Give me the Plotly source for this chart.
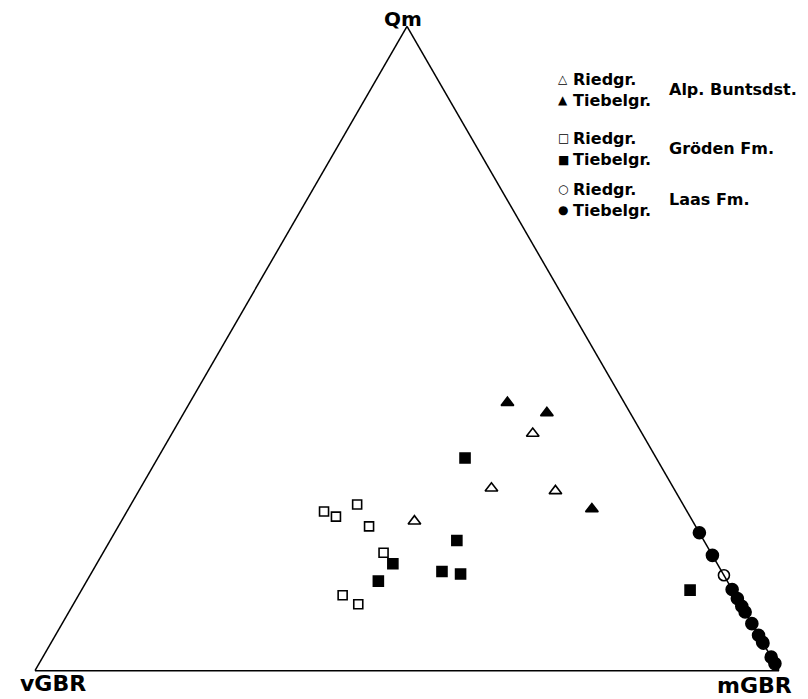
import plotly.graph_objects as go

# Ternary values in percent: Qm (top), vGBR (bottom-left), mGBR (bottom-right)
alp_ried_qm   = [36.8, 28.3, 27.9, 23.2]
alp_ried_vgbr = [14.7, 24.5, 16.1, 37.4]
alp_ried_mgbr = [48.5, 47.2, 56.0, 39.4]

alp_tieb_qm   = [41.6, 40.0, 25.1]
alp_tieb_vgbr = [15.7, 11.2, 12.6]
alp_tieb_mgbr = [42.7, 48.8, 62.3]

gro_ried_qm   = [24.7, 23.9, 25.8, 22.4, 18.3, 11.7, 10.3]
gro_ried_vgbr = [48.8, 47.6, 43.8, 43.9, 44.0, 52.8, 51.4]
gro_ried_mgbr = [26.5, 28.5, 30.4, 33.7, 37.7, 35.5, 38.3]

gro_tieb_qm   = [33.0, 20.2, 16.6, 13.9, 15.4, 15.0, 12.5]
gro_tieb_vgbr = [25.7, 33.2, 43.6, 46.9, 37.6, 35.3, 5.7]
gro_tieb_mgbr = [41.3, 46.6, 39.8, 39.2, 47.0, 49.7, 81.8]

laas_ried_qm   = [14.8, 4.2]
laas_ried_vgbr = [0.0, 0.0]
laas_ried_mgbr = [85.2, 95.8]

laas_tieb_qm   = [21.4, 17.9, 12.6, 11.2, 10.0, 9.1, 7.3, 5.5, 4.4, 2.1, 1.1]
laas_tieb_vgbr = [0.0, 0.0, 0.0, 0.0, 0.0, 0.0, 0.0, 0.0, 0.0, 0.0, 0.0]
laas_tieb_mgbr = [78.6, 82.1, 87.4, 88.8, 90.0, 90.9, 92.7, 94.5, 95.6, 97.9, 98.9]

apex_labels = ["Qm", "vGBR", "mGBR"]
legend_rows = [("△", "Riedgr."), ("▲", "Tiebelgr."),
               ("□", "Riedgr."), ("■", "Tiebelgr."),
               ("○", "Riedgr."), ("●", "Tiebelgr.")]
legend_groups = ["Alp. Buntsdst.", "Gröden Fm.", "Laas Fm."]

# page has an 8px body margin; figure sized to fit the 808x699 window
OFF = 8
W, H = 800, 691
L, R, T, B = 27, 29, 18, 28
PW, PH = W - L - R, H - T - B

def px(x):  # page pixel -> paper
    return (x - OFF - L) / PW

def py(y):
    return 1 - (y - OFF - T) / PH

FONT = "DejaVu Sans"

fig = go.Figure()

def add(qm, vg, mg, symbol, size):
    fig.add_trace(go.Scatterternary(
        a=qm, b=vg, c=mg, mode="markers", cliponaxis=False,
        marker=dict(symbol=symbol, size=size, color="black",
                    line=dict(color="black", width=1.6)),
        showlegend=False, hoverinfo="skip"))

add(alp_ried_qm, alp_ried_vgbr, alp_ried_mgbr, "triangle-up-open", 11)
add(alp_tieb_qm, alp_tieb_vgbr, alp_tieb_mgbr, "triangle-up", 11)
add(gro_ried_qm, gro_ried_vgbr, gro_ried_mgbr, "square-open", 9)
add(gro_tieb_qm, gro_tieb_vgbr, gro_tieb_mgbr, "square", 10)
add(laas_ried_qm, laas_ried_vgbr, laas_ried_mgbr, "circle-open", 11)
add(laas_tieb_qm, laas_tieb_vgbr, laas_tieb_mgbr, "circle", 12)

axis_style = dict(showticklabels=False, showgrid=False, ticks="",
                  linecolor="black", linewidth=1.5, showline=True,
                  title=dict(text=""))

fig.update_layout(
    width=W, height=H,
    margin=dict(l=L, r=R, t=T, b=B, pad=0),
    paper_bgcolor="white",
    ternary=dict(sum=100, bgcolor="white",
                 aaxis=axis_style, baxis=axis_style, caxis=axis_style),
    showlegend=False,
)

ann = []
# apex labels
for txt, x, y, s in [(apex_labels[0], 403, 19, 20), (apex_labels[1], 53, 683, 22),
                     (apex_labels[2], 754, 685, 22)]:
    ann.append(dict(text=txt, x=px(x), y=py(y), xref="paper", yref="paper",
                    xanchor="center", yanchor="middle", showarrow=False,
                    font=dict(family=FONT, size=s, color="black", weight="bold")))
# legend rows
row_y = [79, 100, 138, 160, 189, 210]
for (sym, txt), y in zip(legend_rows, row_y):
    ann.append(dict(text=sym, x=px(563), y=py(y), xref="paper", yref="paper",
                    xanchor="center", yanchor="middle", showarrow=False,
                    font=dict(family=FONT, size=12, color="black")))
    ann.append(dict(text=txt, x=px(571), y=py(y), xref="paper", yref="paper",
                    xanchor="left", yanchor="middle", showarrow=False,
                    font=dict(family=FONT, size=16, color="black", weight="bold")))
group_y = [89, 148, 199]
for txt, y in zip(legend_groups, group_y):
    ann.append(dict(text=txt, x=px(667), y=py(y), xref="paper", yref="paper",
                    xanchor="left", yanchor="middle", showarrow=False,
                    font=dict(family=FONT, size=16, color="black", weight="bold")))

fig.update_layout(annotations=ann)
fig.write_html("out.html")
